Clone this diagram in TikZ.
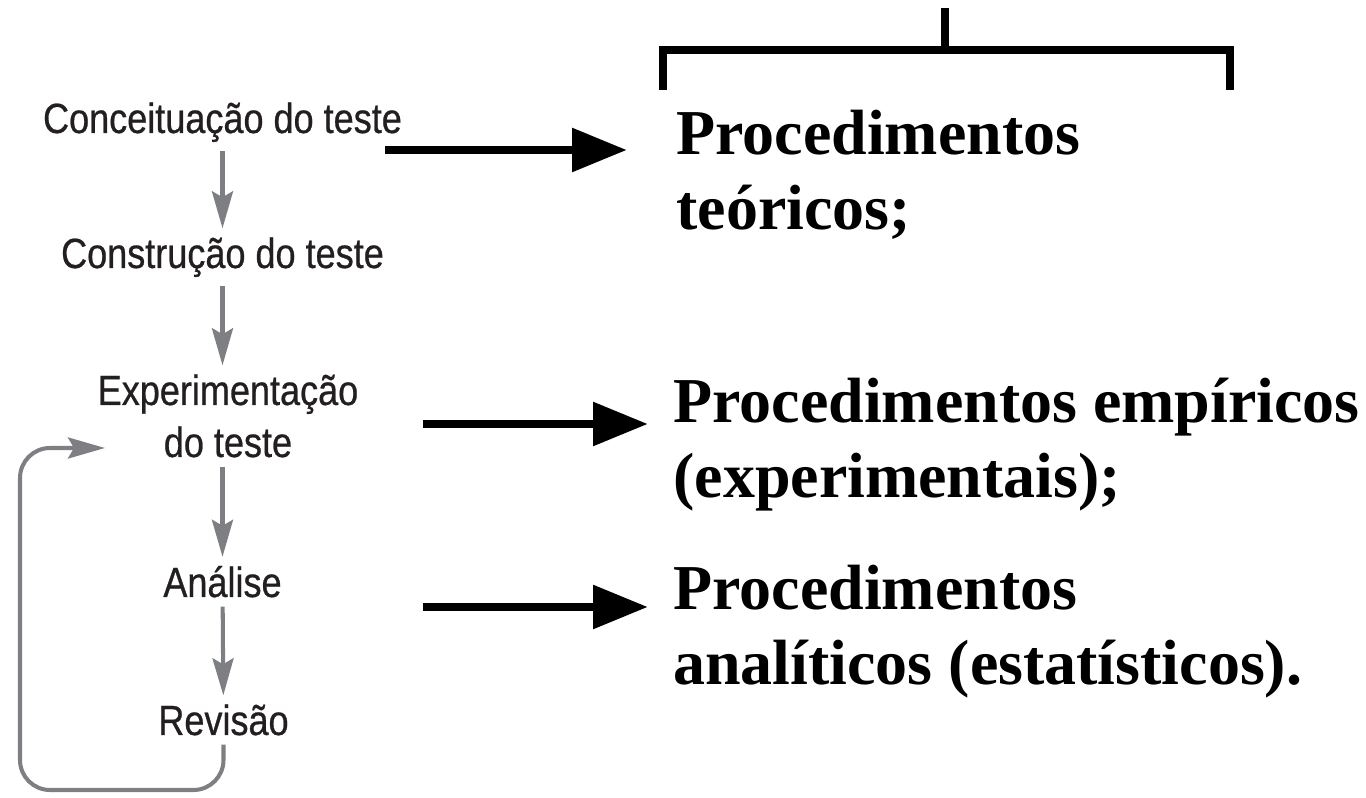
\documentclass[tikz,border=0pt]{standalone}
\usepackage{fontspec}
\setmainfont{Liberation Serif}
\newfontfamily\stepfont{Liberation Sans}[FakeStretch=0.855,FakeBold=0.6]
\usetikzlibrary{calc,arrows.meta}
\definecolor{flowGray}{RGB}{125,127,130}
\definecolor{inkDark}{RGB}{35,31,32}
\newcommand{\StepFont}{\stepfont\fontsize{24}{29.6}\selectfont}
\newcommand{\ProcFont}{\bfseries\fontsize{36.4}{42.7}\selectfont}

\begin{document}
\begin{tikzpicture}[
  stepnode/.style={text=inkDark,font=\StepFont,align=center,inner xsep=2pt,inner ysep=5pt,anchor=base},
  grayarrow/.style={draw=flowGray,line width=2.3pt,-{Stealth[length=0.74cm,width=0.42cm,inset=0.12cm]}},
  procnode/.style={font=\ProcFont,anchor=base west,align=left,inner sep=0pt},
  blackarrow/.style={line width=5.1pt,-{Triangle[length=1.1cm,width=0.84cm]}}
]
\useasboundingbox (0,0) rectangle (27.32,15.96);
% etapas do teste
\node[stepnode] (conc) at (4.45,13.30) {Conceituação do teste};
\node[stepnode] (cons) at (4.45,10.60) {Construção do teste};
\node[stepnode] (exp) at (4.56,6.82) {Experimentação\\do teste};
\node[stepnode] (anal) at (4.45,4.02) {Análise};
\node[stepnode] (rev) at (4.47,1.26) {Revisão};
\coordinate (back) at (2.1,7.0);
\draw[grayarrow] (conc) -- (cons);
\draw[grayarrow] (cons) -- (exp.north -| cons);
\draw[grayarrow] (exp.south -| anal) -- (anal);
\draw[grayarrow] (anal) -- (rev);
\draw[grayarrow,rounded corners=0.6cm] (rev.south) |- (0.4,0.16) |- (back);
% procedimentos
\node[procnode] (teo) at (13.52,11.36) {Procedimentos\\teóricos;};
\node[procnode] (emp) at (13.46,6.0) {Procedimentos empíricos\\(experimentais);};
\node[procnode] (est) at (13.46,2.26) {Procedimentos\\analíticos (estatísticos).};
\coordinate (s1) at (7.7,12.96);
\coordinate (s2) at (8.46,7.48);
\coordinate (s3) at (8.46,3.82);
\draw[blackarrow,shorten >=0.98cm] (s1) -- (s1 -| teo.west);
\draw[blackarrow,shorten >=0.5cm] (s2) -- (s2 -| emp.west);
\draw[blackarrow,shorten >=0.5cm] (s3) -- (s3 -| est.west);
% chave
\draw[line width=4pt] (13.26,14.16) -- (13.26,14.96) -- (24.6,14.96) -- (24.6,14.16);
\draw[line width=4pt] (18.9,15.8) -- (18.9,14.96);
\end{tikzpicture}
\end{document}
